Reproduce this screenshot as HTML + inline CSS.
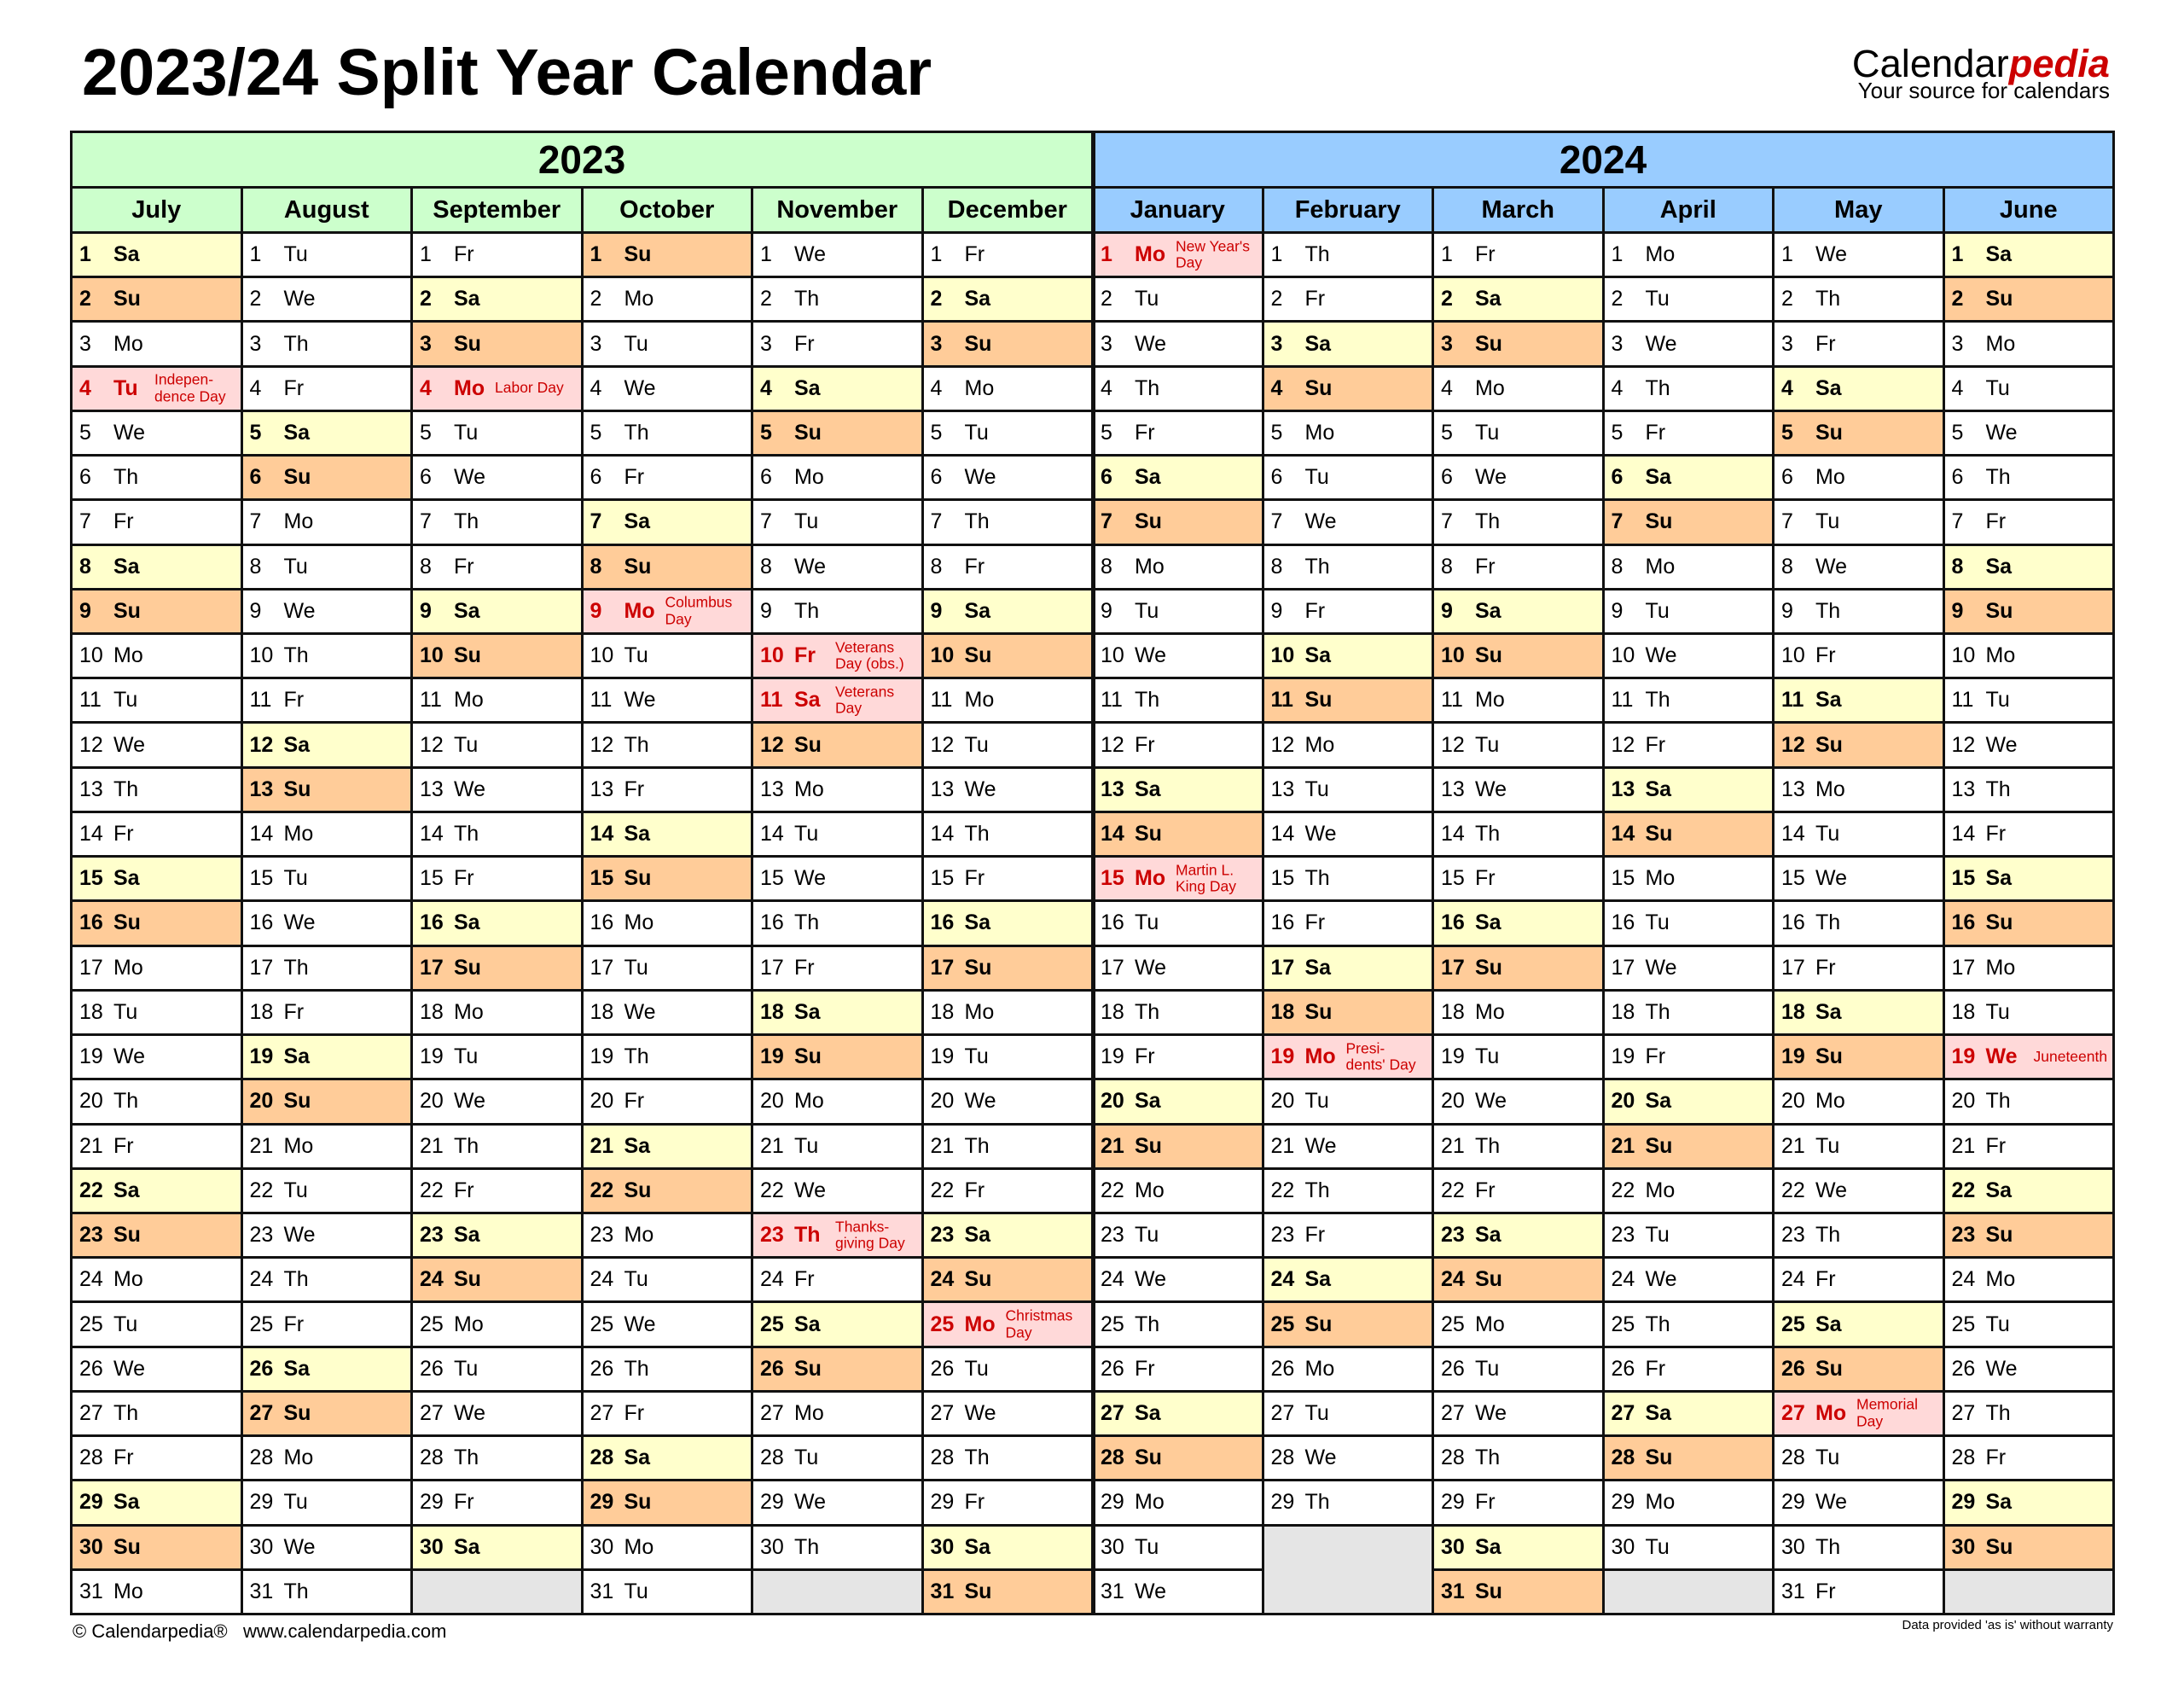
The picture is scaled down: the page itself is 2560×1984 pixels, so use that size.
<!DOCTYPE html>
<html><head><meta charset="utf-8"><style>
*{margin:0;padding:0;box-sizing:border-box}
body{width:2560px;height:1984px;background:#fff;position:relative;font-family:"Liberation Sans",Arial,sans-serif;color:#000;overflow:hidden}
#title{position:absolute;left:96px;top:48px;font-size:76.7px;font-weight:bold;line-height:1;white-space:nowrap}
#logo{position:absolute;right:87px;top:52px;font-size:45.3px;line-height:1;text-align:right;white-space:nowrap}
#logo b{color:#cc0000;font-style:italic}
#sub{position:absolute;right:87px;top:93px;font-size:26px;line-height:1;white-space:nowrap}
#t{position:absolute;left:82px;top:153px;width:2397px;height:1740px;background:#111;padding:3px;display:grid;grid-template-columns:repeat(12,1fr);grid-template-rows:62px 50px repeat(31,1fr);gap:3px;grid-auto-flow:column}
.y{font-size:46px;font-weight:bold;display:flex;align-items:center;justify-content:center}
.m{font-size:29px;font-weight:bold;display:flex;align-items:center;justify-content:center}
.gr{background:#ccffcc}.bl{background:#99ccff}
i{font-style:normal;background:#fff;font-size:25px;display:flex;align-items:center;padding-left:8px;position:relative;white-space:nowrap}
i u{text-decoration:none;display:inline-block;width:40px}
i.s{background:#ffffcc;font-weight:bold}
i.n{background:#ffcc99;font-weight:bold}
i.h{background:#ffd9d9;font-weight:bold;color:#cc0000}
i.g{background:#e5e5e5}
i em{font-style:normal;font-weight:normal;font-size:17.5px;line-height:1.12;position:absolute;left:96px;top:50%;transform:translateY(-50%);color:#cc0000}
#div{position:absolute;left:1279px;top:153px;width:5px;height:1740px;background:#111}
#f1{position:absolute;left:85px;top:1899px;font-size:22px;white-space:nowrap}
#f2{position:absolute;right:83px;top:1896px;font-size:15px;white-space:nowrap}
</style></head><body>
<div id="title">2023/24 Split Year Calendar</div>
<div id="logo">Calendar<b>pedia</b></div>
<div id="sub">Your source for calendars</div>
<div id="t">
<div class="y gr" style="grid-row:1;grid-column:1/7">2023</div>
<div class="y bl" style="grid-row:1;grid-column:7/13">2024</div>
<div class="m gr" style="grid-row:2;grid-column:1">July</div>
<div class="m gr" style="grid-row:2;grid-column:2">August</div>
<div class="m gr" style="grid-row:2;grid-column:3">September</div>
<div class="m gr" style="grid-row:2;grid-column:4">October</div>
<div class="m gr" style="grid-row:2;grid-column:5">November</div>
<div class="m gr" style="grid-row:2;grid-column:6">December</div>
<div class="m bl" style="grid-row:2;grid-column:7">January</div>
<div class="m bl" style="grid-row:2;grid-column:8">February</div>
<div class="m bl" style="grid-row:2;grid-column:9">March</div>
<div class="m bl" style="grid-row:2;grid-column:10">April</div>
<div class="m bl" style="grid-row:2;grid-column:11">May</div>
<div class="m bl" style="grid-row:2;grid-column:12">June</div>
<!-- July -->
<i class="s"><u>1</u>Sa</i><i class="n"><u>2</u>Su</i><i><u>3</u>Mo</i><i class="h"><u>4</u>Tu<em>Indepen-<br>dence Day</em></i><i><u>5</u>We</i><i><u>6</u>Th</i><i><u>7</u>Fr</i><i class="s"><u>8</u>Sa</i><i class="n"><u>9</u>Su</i><i><u>10</u>Mo</i><i><u>11</u>Tu</i><i><u>12</u>We</i><i><u>13</u>Th</i><i><u>14</u>Fr</i><i class="s"><u>15</u>Sa</i><i class="n"><u>16</u>Su</i><i><u>17</u>Mo</i><i><u>18</u>Tu</i><i><u>19</u>We</i><i><u>20</u>Th</i><i><u>21</u>Fr</i><i class="s"><u>22</u>Sa</i><i class="n"><u>23</u>Su</i><i><u>24</u>Mo</i><i><u>25</u>Tu</i><i><u>26</u>We</i><i><u>27</u>Th</i><i><u>28</u>Fr</i><i class="s"><u>29</u>Sa</i><i class="n"><u>30</u>Su</i><i><u>31</u>Mo</i>
<!-- August -->
<i><u>1</u>Tu</i><i><u>2</u>We</i><i><u>3</u>Th</i><i><u>4</u>Fr</i><i class="s"><u>5</u>Sa</i><i class="n"><u>6</u>Su</i><i><u>7</u>Mo</i><i><u>8</u>Tu</i><i><u>9</u>We</i><i><u>10</u>Th</i><i><u>11</u>Fr</i><i class="s"><u>12</u>Sa</i><i class="n"><u>13</u>Su</i><i><u>14</u>Mo</i><i><u>15</u>Tu</i><i><u>16</u>We</i><i><u>17</u>Th</i><i><u>18</u>Fr</i><i class="s"><u>19</u>Sa</i><i class="n"><u>20</u>Su</i><i><u>21</u>Mo</i><i><u>22</u>Tu</i><i><u>23</u>We</i><i><u>24</u>Th</i><i><u>25</u>Fr</i><i class="s"><u>26</u>Sa</i><i class="n"><u>27</u>Su</i><i><u>28</u>Mo</i><i><u>29</u>Tu</i><i><u>30</u>We</i><i><u>31</u>Th</i>
<!-- September -->
<i><u>1</u>Fr</i><i class="s"><u>2</u>Sa</i><i class="n"><u>3</u>Su</i><i class="h"><u>4</u>Mo<em>Labor Day</em></i><i><u>5</u>Tu</i><i><u>6</u>We</i><i><u>7</u>Th</i><i><u>8</u>Fr</i><i class="s"><u>9</u>Sa</i><i class="n"><u>10</u>Su</i><i><u>11</u>Mo</i><i><u>12</u>Tu</i><i><u>13</u>We</i><i><u>14</u>Th</i><i><u>15</u>Fr</i><i class="s"><u>16</u>Sa</i><i class="n"><u>17</u>Su</i><i><u>18</u>Mo</i><i><u>19</u>Tu</i><i><u>20</u>We</i><i><u>21</u>Th</i><i><u>22</u>Fr</i><i class="s"><u>23</u>Sa</i><i class="n"><u>24</u>Su</i><i><u>25</u>Mo</i><i><u>26</u>Tu</i><i><u>27</u>We</i><i><u>28</u>Th</i><i><u>29</u>Fr</i><i class="s"><u>30</u>Sa</i><i class="g"></i>
<!-- October -->
<i class="n"><u>1</u>Su</i><i><u>2</u>Mo</i><i><u>3</u>Tu</i><i><u>4</u>We</i><i><u>5</u>Th</i><i><u>6</u>Fr</i><i class="s"><u>7</u>Sa</i><i class="n"><u>8</u>Su</i><i class="h"><u>9</u>Mo<em>Columbus<br>Day</em></i><i><u>10</u>Tu</i><i><u>11</u>We</i><i><u>12</u>Th</i><i><u>13</u>Fr</i><i class="s"><u>14</u>Sa</i><i class="n"><u>15</u>Su</i><i><u>16</u>Mo</i><i><u>17</u>Tu</i><i><u>18</u>We</i><i><u>19</u>Th</i><i><u>20</u>Fr</i><i class="s"><u>21</u>Sa</i><i class="n"><u>22</u>Su</i><i><u>23</u>Mo</i><i><u>24</u>Tu</i><i><u>25</u>We</i><i><u>26</u>Th</i><i><u>27</u>Fr</i><i class="s"><u>28</u>Sa</i><i class="n"><u>29</u>Su</i><i><u>30</u>Mo</i><i><u>31</u>Tu</i>
<!-- November -->
<i><u>1</u>We</i><i><u>2</u>Th</i><i><u>3</u>Fr</i><i class="s"><u>4</u>Sa</i><i class="n"><u>5</u>Su</i><i><u>6</u>Mo</i><i><u>7</u>Tu</i><i><u>8</u>We</i><i><u>9</u>Th</i><i class="h"><u>10</u>Fr<em>Veterans<br>Day (obs.)</em></i><i class="h"><u>11</u>Sa<em>Veterans<br>Day</em></i><i class="n"><u>12</u>Su</i><i><u>13</u>Mo</i><i><u>14</u>Tu</i><i><u>15</u>We</i><i><u>16</u>Th</i><i><u>17</u>Fr</i><i class="s"><u>18</u>Sa</i><i class="n"><u>19</u>Su</i><i><u>20</u>Mo</i><i><u>21</u>Tu</i><i><u>22</u>We</i><i class="h"><u>23</u>Th<em>Thanks-<br>giving Day</em></i><i><u>24</u>Fr</i><i class="s"><u>25</u>Sa</i><i class="n"><u>26</u>Su</i><i><u>27</u>Mo</i><i><u>28</u>Tu</i><i><u>29</u>We</i><i><u>30</u>Th</i><i class="g"></i>
<!-- December -->
<i><u>1</u>Fr</i><i class="s"><u>2</u>Sa</i><i class="n"><u>3</u>Su</i><i><u>4</u>Mo</i><i><u>5</u>Tu</i><i><u>6</u>We</i><i><u>7</u>Th</i><i><u>8</u>Fr</i><i class="s"><u>9</u>Sa</i><i class="n"><u>10</u>Su</i><i><u>11</u>Mo</i><i><u>12</u>Tu</i><i><u>13</u>We</i><i><u>14</u>Th</i><i><u>15</u>Fr</i><i class="s"><u>16</u>Sa</i><i class="n"><u>17</u>Su</i><i><u>18</u>Mo</i><i><u>19</u>Tu</i><i><u>20</u>We</i><i><u>21</u>Th</i><i><u>22</u>Fr</i><i class="s"><u>23</u>Sa</i><i class="n"><u>24</u>Su</i><i class="h"><u>25</u>Mo<em>Christmas<br>Day</em></i><i><u>26</u>Tu</i><i><u>27</u>We</i><i><u>28</u>Th</i><i><u>29</u>Fr</i><i class="s"><u>30</u>Sa</i><i class="n"><u>31</u>Su</i>
<!-- January -->
<i class="h"><u>1</u>Mo<em>New Year's<br>Day</em></i><i><u>2</u>Tu</i><i><u>3</u>We</i><i><u>4</u>Th</i><i><u>5</u>Fr</i><i class="s"><u>6</u>Sa</i><i class="n"><u>7</u>Su</i><i><u>8</u>Mo</i><i><u>9</u>Tu</i><i><u>10</u>We</i><i><u>11</u>Th</i><i><u>12</u>Fr</i><i class="s"><u>13</u>Sa</i><i class="n"><u>14</u>Su</i><i class="h"><u>15</u>Mo<em>Martin L.<br>King Day</em></i><i><u>16</u>Tu</i><i><u>17</u>We</i><i><u>18</u>Th</i><i><u>19</u>Fr</i><i class="s"><u>20</u>Sa</i><i class="n"><u>21</u>Su</i><i><u>22</u>Mo</i><i><u>23</u>Tu</i><i><u>24</u>We</i><i><u>25</u>Th</i><i><u>26</u>Fr</i><i class="s"><u>27</u>Sa</i><i class="n"><u>28</u>Su</i><i><u>29</u>Mo</i><i><u>30</u>Tu</i><i><u>31</u>We</i>
<!-- February -->
<i><u>1</u>Th</i><i><u>2</u>Fr</i><i class="s"><u>3</u>Sa</i><i class="n"><u>4</u>Su</i><i><u>5</u>Mo</i><i><u>6</u>Tu</i><i><u>7</u>We</i><i><u>8</u>Th</i><i><u>9</u>Fr</i><i class="s"><u>10</u>Sa</i><i class="n"><u>11</u>Su</i><i><u>12</u>Mo</i><i><u>13</u>Tu</i><i><u>14</u>We</i><i><u>15</u>Th</i><i><u>16</u>Fr</i><i class="s"><u>17</u>Sa</i><i class="n"><u>18</u>Su</i><i class="h"><u>19</u>Mo<em>Presi-<br>dents' Day</em></i><i><u>20</u>Tu</i><i><u>21</u>We</i><i><u>22</u>Th</i><i><u>23</u>Fr</i><i class="s"><u>24</u>Sa</i><i class="n"><u>25</u>Su</i><i><u>26</u>Mo</i><i><u>27</u>Tu</i><i><u>28</u>We</i><i><u>29</u>Th</i><i class="g" style="grid-row:span 2"></i>
<!-- March -->
<i><u>1</u>Fr</i><i class="s"><u>2</u>Sa</i><i class="n"><u>3</u>Su</i><i><u>4</u>Mo</i><i><u>5</u>Tu</i><i><u>6</u>We</i><i><u>7</u>Th</i><i><u>8</u>Fr</i><i class="s"><u>9</u>Sa</i><i class="n"><u>10</u>Su</i><i><u>11</u>Mo</i><i><u>12</u>Tu</i><i><u>13</u>We</i><i><u>14</u>Th</i><i><u>15</u>Fr</i><i class="s"><u>16</u>Sa</i><i class="n"><u>17</u>Su</i><i><u>18</u>Mo</i><i><u>19</u>Tu</i><i><u>20</u>We</i><i><u>21</u>Th</i><i><u>22</u>Fr</i><i class="s"><u>23</u>Sa</i><i class="n"><u>24</u>Su</i><i><u>25</u>Mo</i><i><u>26</u>Tu</i><i><u>27</u>We</i><i><u>28</u>Th</i><i><u>29</u>Fr</i><i class="s"><u>30</u>Sa</i><i class="n"><u>31</u>Su</i>
<!-- April -->
<i><u>1</u>Mo</i><i><u>2</u>Tu</i><i><u>3</u>We</i><i><u>4</u>Th</i><i><u>5</u>Fr</i><i class="s"><u>6</u>Sa</i><i class="n"><u>7</u>Su</i><i><u>8</u>Mo</i><i><u>9</u>Tu</i><i><u>10</u>We</i><i><u>11</u>Th</i><i><u>12</u>Fr</i><i class="s"><u>13</u>Sa</i><i class="n"><u>14</u>Su</i><i><u>15</u>Mo</i><i><u>16</u>Tu</i><i><u>17</u>We</i><i><u>18</u>Th</i><i><u>19</u>Fr</i><i class="s"><u>20</u>Sa</i><i class="n"><u>21</u>Su</i><i><u>22</u>Mo</i><i><u>23</u>Tu</i><i><u>24</u>We</i><i><u>25</u>Th</i><i><u>26</u>Fr</i><i class="s"><u>27</u>Sa</i><i class="n"><u>28</u>Su</i><i><u>29</u>Mo</i><i><u>30</u>Tu</i><i class="g"></i>
<!-- May -->
<i><u>1</u>We</i><i><u>2</u>Th</i><i><u>3</u>Fr</i><i class="s"><u>4</u>Sa</i><i class="n"><u>5</u>Su</i><i><u>6</u>Mo</i><i><u>7</u>Tu</i><i><u>8</u>We</i><i><u>9</u>Th</i><i><u>10</u>Fr</i><i class="s"><u>11</u>Sa</i><i class="n"><u>12</u>Su</i><i><u>13</u>Mo</i><i><u>14</u>Tu</i><i><u>15</u>We</i><i><u>16</u>Th</i><i><u>17</u>Fr</i><i class="s"><u>18</u>Sa</i><i class="n"><u>19</u>Su</i><i><u>20</u>Mo</i><i><u>21</u>Tu</i><i><u>22</u>We</i><i><u>23</u>Th</i><i><u>24</u>Fr</i><i class="s"><u>25</u>Sa</i><i class="n"><u>26</u>Su</i><i class="h"><u>27</u>Mo<em>Memorial<br>Day</em></i><i><u>28</u>Tu</i><i><u>29</u>We</i><i><u>30</u>Th</i><i><u>31</u>Fr</i>
<!-- June -->
<i class="s"><u>1</u>Sa</i><i class="n"><u>2</u>Su</i><i><u>3</u>Mo</i><i><u>4</u>Tu</i><i><u>5</u>We</i><i><u>6</u>Th</i><i><u>7</u>Fr</i><i class="s"><u>8</u>Sa</i><i class="n"><u>9</u>Su</i><i><u>10</u>Mo</i><i><u>11</u>Tu</i><i><u>12</u>We</i><i><u>13</u>Th</i><i><u>14</u>Fr</i><i class="s"><u>15</u>Sa</i><i class="n"><u>16</u>Su</i><i><u>17</u>Mo</i><i><u>18</u>Tu</i><i class="h"><u>19</u>We<em style="left:104px">Juneteenth</em></i><i><u>20</u>Th</i><i><u>21</u>Fr</i><i class="s"><u>22</u>Sa</i><i class="n"><u>23</u>Su</i><i><u>24</u>Mo</i><i><u>25</u>Tu</i><i><u>26</u>We</i><i><u>27</u>Th</i><i><u>28</u>Fr</i><i class="s"><u>29</u>Sa</i><i class="n"><u>30</u>Su</i><i class="g"></i>
</div>
<div id="div"></div>
<div id="f1">© Calendarpedia®&nbsp;&nbsp; www.calendarpedia.com</div>
<div id="f2">Data provided 'as is' without warranty</div>
</body></html>
